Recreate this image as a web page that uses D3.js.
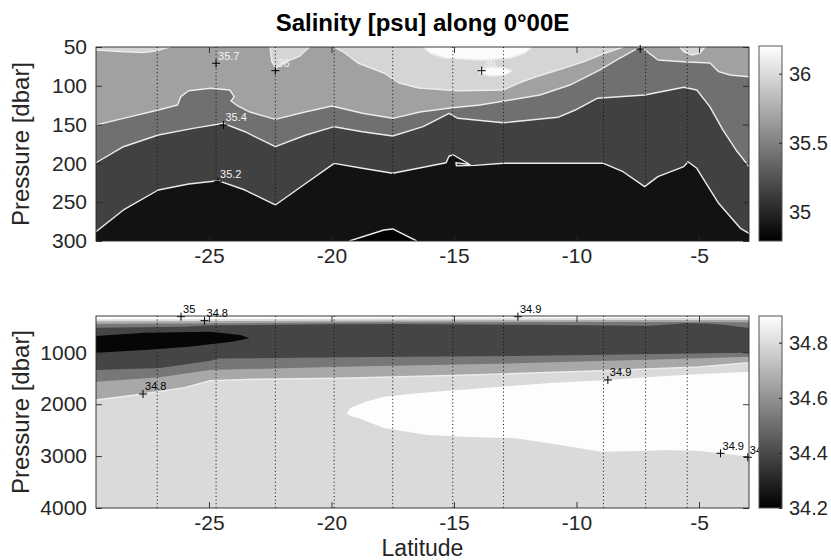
<!DOCTYPE html>
<html><head><meta charset="utf-8">
<script src="https://cdn.jsdelivr.net/npm/d3@7/dist/d3.min.js"></script>
<style>
html,body{margin:0;padding:0;background:#fff;}
svg text{font-family:"Liberation Sans",Arial,Helvetica,sans-serif;}
</style></head><body>
<svg id="chart" width="831" height="560"></svg>
<script>
// ---------------- DATA ----------------
const latTicks = [-25, -20, -15, -10, -5];
const upperPTicks = [50, 100, 150, 200, 250, 300];
const lowerPTicks = [1000, 2000, 3000, 4000];
const upperCbarTicks = [35, 35.5, 36];
const lowerCbarTicks = [34.2, 34.4, 34.6, 34.8];
const upperCbarRange = [34.79, 36.2];
const lowerCbarRange = [34.2, 34.897];
const latRange = [-29.61, -2.96];
const upperPRange = [50, 300];
const lowerPRange = [300, 4000];
const stationLats = [-27.11, -24.71, -22.29, -19.89, -17.5, -15.05, -12.98, -8.9, -7.18, -5.48];

// Upper panel isolines, [latitude, pressure]
const up350 = [[-19.27,300],[-17.86,285.8],[-17.50,284.5],[-16.52,300]];
const up352 = [[-29.61,288.0],[-28.49,260.0],[-27.07,234.3],[-25.83,226.5],[-24.63,222.3],[-23.53,234.3],
  [-22.29,253.6],[-21.04,225.6],[-19.89,199.9],[-18.74,206.3],[-17.50,212.7],[-15.32,199.1],[-15.20,190.5],
  [-15.02,189.2],[-14.67,195.6],[-14.35,201.4],[-14.92,199.0],[-14.90,203.2],[-14.14,202.5],[-12.98,199.9],
  [-10.76,199.9],[-8.90,199.9],[-8.10,210.7],[-7.22,230.0],[-6.68,217.1],[-5.62,204.2],[-5.45,197.8],
  [-5.09,206.3],[-4.20,251.4],[-3.31,283.6],[-2.96,290.1]];
const up354 = [[-29.61,199.1],[-28.49,178.5],[-27.07,163.4],[-25.65,154.8],[-24.41,148.3],[-23.53,159.2],
  [-22.29,178.5],[-21.04,163.4],[-19.89,152.7],[-18.74,159.2],[-17.50,164.7],[-16.26,152.7],[-15.20,135.4],
  [-14.84,141.9],[-12.98,147.6],[-10.76,140.6],[-10.05,131.2],[-9.16,116.1],[-7.22,111.9],[-5.62,101.9],
  [-5.09,105.4],[-4.56,126.9],[-4.02,157.0],[-3.49,182.7],[-2.96,204.2]];
const up356a = [[-29.61,150.5],[-28.49,141.9],[-27.07,131.2],[-26.28,124.7],[-26.15,114.0],[-25.83,106.3],
  [-24.95,103.2],[-24.15,105.4],[-23.97,114.0],[-24.10,119.6],[-23.82,126.0],[-23.33,133.8],[-22.29,143.2],
  [-21.04,133.4],[-19.98,126.0],[-18.74,135.4],[-17.50,141.9],[-16.39,133.8],[-15.16,128.6],[-13.94,124.7],
  [-12.71,118.3],[-11.49,111.9],[-10.27,99.0],[-9.04,79.6],[-8.22,64.2],[-7.41,50]];
const up356b = [[-7.37,50],[-6.67,66.8],[-5.49,69.3],[-4.55,70.6],[-4.20,81.8],[-3.73,86.1],[-2.96,88.3]];
const up358a = [[-29.61,53.9],[-28.63,55.8],[-27.69,57.3],[-27.12,54.8],[-26.80,51.7],[-26.59,50]];
const up358b = [[-22.51,50],[-22.43,69.3],[-22.27,77.1],[-22.02,71.9],[-21.69,66.8],[-21.29,61.6],[-21.04,53.9],[-20.88,50]];
const up358c = [[-19.90,50],[-19.45,57.7],[-18.92,70.6],[-17.86,83.5],[-17.24,96.4],[-16.43,102.8],[-14.84,106.3],
  [-12.98,105.4],[-12.36,96.4],[-11.65,88.3],[-10.76,79.6],[-9.69,68.9],[-8.81,57.7],[-8.10,50]];
const up358d = [[-5.78,50],[-5.61,56.4],[-5.29,60.3],[-4.96,57.7],[-4.76,50]];
const up360a = [[-16.27,50],[-15.98,57.7],[-15.37,64.2],[-13.94,66.8],[-12.71,64.2],[-12.10,57.7],[-11.82,50]];
const up360b = [[-13.98,79.6],[-13.53,75.8],[-12.92,77.1],[-12.63,80.9],[-12.92,86.1],[-13.53,87.4],[-13.94,83.5]];

// Lower panel band boundaries, [latitude, pressure]
const lo1 = [[-29.61,367],[-24,360],[-18,350],[-12,345],[-6,340],[-2.96,338]];
const lo2 = [[-29.61,406],[-24,398],[-18,388],[-12,383],[-6,378],[-2.96,376]];
const lo3 = [[-29.61,455],[-24,440],[-18,420],[-12,418],[-6,415],[-2.96,420]];
const lo4 = [[-29.61,525],[-26,505],[-24.9,480],[-20,460],[-17.5,455],[-12,470],[-7,490],[-5.6,440],[-4.7,445],[-4,470],[-2.96,530]];
const loMin = [[-29.61,685],[-27.61,622],[-24.96,602],[-23.71,666],[-23.35,730],[-24.06,795],[-25.83,892],[-27.61,955],[-29.61,1007]];
const lo5 = [[-29.61,1341],[-27,1300],[-25,1165],[-24.6,1120],[-19.6,1096],[-12.5,1071],[-2.96,1007]];
const lo6 = [[-29.61,1566],[-27,1480],[-24.96,1341],[-19.6,1277],[-12.5,1211],[-6,1130],[-2.96,1084]];
const lo348 = [[-29.61,1919],[-27.69,1803],[-26,1680],[-24.96,1547],[-23.17,1520],[-19.63,1500],[-14.31,1437],[-9.0,1354],[-5,1280],[-2.96,1200]];
const loMax = [[-2.96,1373],[-4.96,1418],[-7.0,1475],[-8.71,1533],[-11.08,1591],[-14.31,1707],[-16.39,1784],[-17.86,1855],
  [-18.63,1957],[-19.24,2073],[-19.37,2169],[-19.24,2227],[-18.92,2266],[-17.86,2458],[-16.08,2593],[-14.35,2632],
  [-12.55,2651],[-10.67,2786],[-9.0,2915],[-7.41,2901],[-6.35,2882],[-4.96,2901],[-4.12,2946],[-2.96,3011]];

// Contour labels
const upperLabels = [
  {lat:-24.71, p:71.0, text:"35.7"}, {lat:-22.29, p:80.5, text:"36"}, {lat:-13.87, p:80.5, text:"36"},
  {lat:-24.41, p:150.5, text:"35.4"}, {lat:-24.63, p:223.6, text:"35.2"}, {lat:-7.4, p:52.6, text:""}];
const lowerLabels = [
  {lat:-26.14, p:313, text:"35"}, {lat:-25.18, p:390, text:"34.8"}, {lat:-12.39, p:313, text:"34.9"},
  {lat:-27.69, p:1803, text:"34.8"}, {lat:-8.72, p:1533, text:"34.9"}, {lat:-4.12, p:2946, text:"34.9"},
  {lat:-3.01, p:3023, text:"34.9"}];

// ---------------- DRAW ----------------
const svg = d3.select("#chart");
svg.append("rect").attr("width",831).attr("height",560).attr("fill","#fff");
const x = d3.scaleLinear().domain(latRange).range([96, 749]);
const yU = d3.scaleLinear().domain(upperPRange).range([47, 241]);
const yL = d3.scaleLinear().domain(lowerPRange).range([316, 508]);
const AX = "#262626";

function closeTop(pts, pTop){ const f=pts[0], l=pts[pts.length-1]; return pts.concat([[l[0],pTop],[f[0],pTop]]); }

function drawPanel(id, y, bg, layers, strokes, labels, labelColor){
  const defs = svg.append("defs");
  defs.append("clipPath").attr("id", id).append("rect")
    .attr("x", x.range()[0]).attr("y", y.range()[0])
    .attr("width", x.range()[1]-x.range()[0]).attr("height", y.range()[1]-y.range()[0]);
  const g = svg.append("g").attr("clip-path", `url(#${id})`);
  const line = d3.line().x(d=>x(d[0])).y(d=>y(d[1]));
  g.append("rect").attr("x", x.range()[0]).attr("y", y.range()[0])
    .attr("width", x.range()[1]-x.range()[0]).attr("height", y.range()[1]-y.range()[0]).attr("fill", bg);
  const pTop = y.domain()[0];
  layers.forEach(L => {
    const pts = L.mode === "top" ? closeTop(L.pts, pTop) : L.pts;
    g.append("path").attr("d", line(pts) + "Z").attr("fill", L.fill).attr("stroke","none");
  });
  strokes.forEach(S => {
    g.append("path").attr("d", line(S.pts) + (S.closed ? "Z" : "")).attr("fill","none")
      .attr("stroke", "#ececec").attr("stroke-width", 1.4).attr("stroke-linejoin","round");
  });
  g.selectAll(".st").data(stationLats).enter().append("line")
    .attr("x1", d=>x(d)).attr("x2", d=>x(d)).attr("y1", y.range()[0]).attr("y2", y.range()[1])
    .attr("stroke", "#111").attr("stroke-width", 1).attr("stroke-dasharray", "1,2.6");
  const lg = svg.append("g");
  labels.forEach(d => {
    const px = x(d.lat), py = y(d.p);
    lg.append("path").attr("d", `M${px-4},${py}H${px+4}M${px},${py-4}V${py+4}`)
      .attr("stroke", "#000").attr("stroke-width", 1);
    if (d.text) lg.append("text").attr("x", px+2).attr("y", py-3.5).attr("font-size", 11)
      .attr("fill", labelColor).text(d.text);
  });
}

function drawAxes(y, pTicks, ylabel){
  const x0 = x.range()[0], x1 = x.range()[1], y0 = y.range()[0], y1 = y.range()[1];
  const fmt = d => String(d);
  const style = sel => { sel.select(".domain").remove();
    sel.selectAll("line").attr("stroke", AX).attr("stroke-width", 0.9);
    sel.selectAll("text").attr("fill", AX).attr("font-size", 21)
      .attr("font-family", '"Liberation Sans",Arial,Helvetica,sans-serif'); };
  svg.append("g").attr("transform", `translate(0,${y1})`)
    .call(d3.axisBottom(x).tickValues(latTicks).tickSize(-6).tickPadding(7).tickFormat(fmt)).call(style);
  svg.append("g").attr("transform", `translate(0,${y0})`)
    .call(d3.axisTop(x).tickValues(latTicks).tickSize(-6).tickFormat("")).call(style);
  svg.append("g").attr("transform", `translate(${x0},0)`)
    .call(d3.axisLeft(y).tickValues(pTicks).tickSize(-6).tickPadding(9).tickFormat(fmt)).call(style);
  svg.append("g").attr("transform", `translate(${x1},0)`)
    .call(d3.axisRight(y).tickValues(pTicks).tickSize(-6).tickFormat("")).call(style);
  svg.append("rect").attr("x", x0).attr("y", y0).attr("width", x1-x0).attr("height", y1-y0)
    .attr("fill","none").attr("stroke", AX).attr("stroke-width", 0.9);
  svg.append("text").attr("transform", `translate(29,${(y0+y1)/2}) rotate(-90)`)
    .attr("text-anchor","middle").attr("font-size", 24).attr("fill", AX).text(ylabel);
}

function drawColorbar(id, y0, y1, range, ticks){
  const cs = d3.scaleLinear().domain(range).range([y1, y0]);
  const grad = svg.append("defs").append("linearGradient").attr("id", id)
    .attr("x1",0).attr("y1",1).attr("x2",0).attr("y2",0);
  grad.append("stop").attr("offset","0%").attr("stop-color","#000");
  grad.append("stop").attr("offset","100%").attr("stop-color","#fff");
  svg.append("rect").attr("x",759).attr("y",y0).attr("width",23).attr("height",y1-y0)
    .attr("fill",`url(#${id})`).attr("stroke", "#555").attr("stroke-width", 1);
  const ax = svg.append("g").attr("transform","translate(782,0)")
    .call(d3.axisRight(cs).tickValues(ticks).tickSize(-3).tickPadding(7).tickFormat(d=>String(d)));
  ax.select(".domain").remove();
  ax.selectAll("line").attr("stroke", AX);
  ax.selectAll("text").attr("fill", AX).attr("font-size", 20)
    .attr("font-family", '"Liberation Sans",Arial,Helvetica,sans-serif');
}

// Upper panel
drawPanel("clipU", yU, "#121212",
  [ {pts: up350, mode:"ring", fill:"#020202"},
    {pts: up352, mode:"top", fill:"#414141"},
    {pts: up354, mode:"top", fill:"#707070"},
    {pts: up356a, mode:"top", fill:"#a1a1a1"},
    {pts: up356b, mode:"top", fill:"#a1a1a1"},
    {pts: up358a, mode:"top", fill:"#d5d5d5"},
    {pts: up358b, mode:"top", fill:"#d5d5d5"},
    {pts: up358c, mode:"top", fill:"#d5d5d5"},
    {pts: up358d, mode:"top", fill:"#d5d5d5"},
    {pts: up360a, mode:"top", fill:"#fcfcfc"},
    {pts: up360b, mode:"ring", fill:"#fcfcfc"} ],
  [ {pts: up350}, {pts: up352}, {pts: up354}, {pts: up356a}, {pts: up356b}, {pts: up358a}, {pts: up358b},
    {pts: up358c}, {pts: up358d}, {pts: up360a}, {pts: up360b, closed:true} ],
  upperLabels, "#f4f4f4");

// Lower panel
drawPanel("clipL", yL, "#dadada",
  [ {pts: lo348, mode:"top", fill:"#a8a8a8"},
    {pts: lo6, mode:"top", fill:"#777777"},
    {pts: lo5, mode:"top", fill:"#454545"},
    {pts: lo4, mode:"top", fill:"#777777"},
    {pts: lo3, mode:"top", fill:"#a8a8a8"},
    {pts: lo2, mode:"top", fill:"#dadada"},
    {pts: lo1, mode:"top", fill:"#fdfdfd"},
    {pts: loMin, mode:"ring", fill:"#060606"},
    {pts: loMax, mode:"ring", fill:"#fdfdfd"} ],
  [ {pts: lo348} ],
  lowerLabels, "#000");

drawAxes(yU, upperPTicks, "Pressure [dbar]");
drawAxes(yL, lowerPTicks, "Pressure [dbar]");
drawColorbar("cbU", 46, 241, upperCbarRange, upperCbarTicks);
drawColorbar("cbL", 316, 508, lowerCbarRange, lowerCbarTicks);

svg.append("text").attr("x", 422.5).attr("y", 31).attr("text-anchor","middle")
  .attr("font-size", 24).attr("font-weight","bold").attr("fill","#000").text("Salinity [psu] along 0°00E");
svg.append("text").attr("x", 422.5).attr("y", 556).attr("text-anchor","middle")
  .attr("font-size", 23).attr("fill", AX).text("Latitude");
</script>
</body></html>
